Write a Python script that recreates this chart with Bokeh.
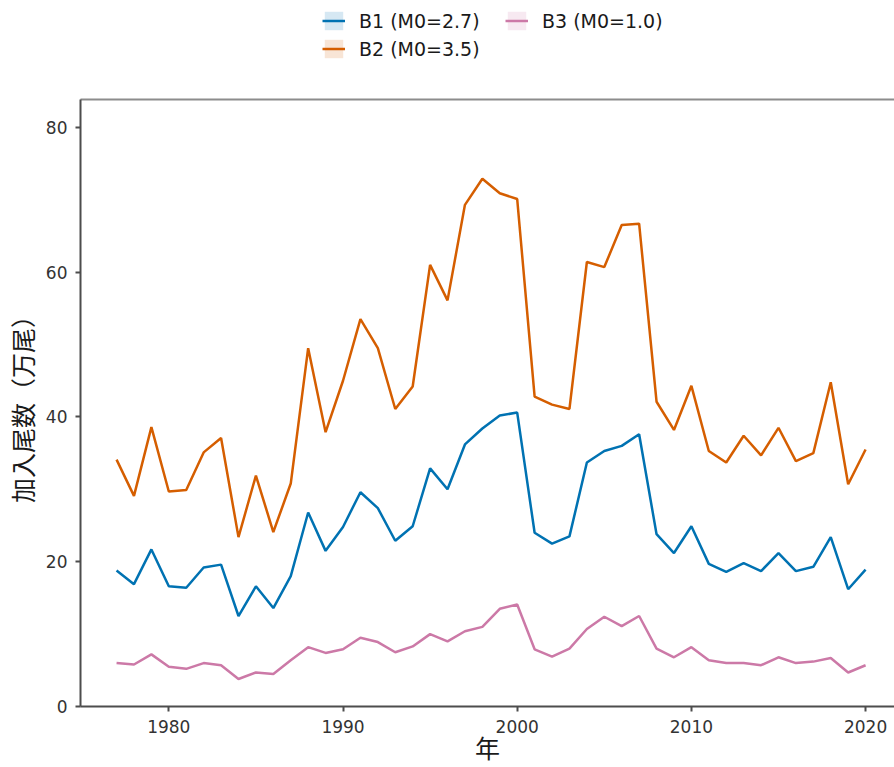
from bokeh.plotting import figure
from bokeh.layouts import column
from bokeh.models import Range1d, LinearAxis, Legend, LegendItem, FixedTicker, ColumnDataSource
from bokeh.embed import file_html
from bokeh.resources import INLINE

years = list(range(1977, 2021))

b1 = [18.8, 16.9, 21.7, 16.6, 16.4, 19.2, 19.6, 12.5, 16.6, 13.6,
      18.0, 26.8, 21.5, 24.8, 29.6, 27.4, 22.9, 24.9, 32.9, 30.0,
      36.2, 38.4, 40.2, 40.6, 24.0, 22.5, 23.5, 33.7, 35.3, 36.0,
      37.6, 23.8, 21.2, 24.9, 19.7, 18.6, 19.8, 18.7, 21.2, 18.7,
      19.3, 23.4, 16.2, 18.9]

b2 = [34.1, 29.1, 38.6, 29.7, 29.9, 35.1, 37.1, 23.4, 31.9, 24.1,
      30.8, 49.5, 37.9, 45.0, 53.5, 49.5, 41.1, 44.2, 61.0, 56.1,
      69.3, 72.9, 70.9, 70.1, 42.8, 41.7, 41.1, 61.4, 60.7, 66.5,
      66.7, 42.1, 38.2, 44.3, 35.3, 33.7, 37.4, 34.7, 38.5, 33.9,
      35.0, 44.8, 30.7, 35.5]

b3 = [6.0, 5.8, 7.2, 5.5, 5.2, 6.0, 5.7, 3.8, 4.7, 4.5,
      6.4, 8.2, 7.4, 7.9, 9.5, 8.9, 7.5, 8.3, 10.0, 9.0,
      10.4, 11.0, 13.5, 14.1, 7.9, 6.9, 8.0, 10.7, 12.4, 11.1,
      12.5, 8.0, 6.8, 8.2, 6.4, 6.0, 6.0, 5.7, 6.8, 6.0,
      6.2, 6.7, 4.7, 5.7]

series_names = ["B1 (M0=2.7)", "B2 (M0=3.5)", "B3 (M0=1.0)"]
series_values = [b1, b2, b3]
series_colors = ["#0072B2", "#D55E00", "#CC79A7"]

x_ticks = [1980, 1990, 2000, 2010, 2020]
y_ticks = [0, 20, 40, 60, 80]
x_title = "年"
y_title = "加入尾数（万尾）"

FONT = "Noto Sans CJK JP"
LATIN = "DejaVu Sans"
W, H, LEG_H = 894, 767, 66

# ---- legend strip (its ranges keep the proxy glyphs out of view) ----
lf = figure(width=W, height=LEG_H, output_backend="svg", toolbar_location=None,
            x_range=Range1d(0, 1), y_range=Range1d(-200, -100),
            x_axis_type=None, y_axis_type=None,
            min_border_left=0, min_border_right=0, min_border_top=0, min_border_bottom=0)
lf.outline_line_color = None
lf.xgrid.grid_line_color = None
lf.ygrid.grid_line_color = None

# ---- main plot ----
p = figure(width=W, height=H - LEG_H, output_backend="svg", toolbar_location=None,
           x_range=Range1d(1974.93, 2021.66), y_range=Range1d(0, 83.85),
           min_border_left=80, min_border_right=0, min_border_top=99 - LEG_H,
           min_border_bottom=61, x_axis_label=x_title, y_axis_label=y_title)
p.outline_line_color = None
p.xgrid.grid_line_color = None
p.ygrid.grid_line_color = None
p.background_fill_color = "white"

for ax, ticks in ((p.xaxis[0], x_ticks), (p.yaxis[0], y_ticks)):
    ax.ticker = FixedTicker(ticks=ticks)
    ax.axis_line_color = "#4d4d4d"
    ax.axis_line_width = 2
    ax.major_tick_line_color = "#4d4d4d"
    ax.major_tick_line_width = 2
    ax.major_tick_out = 5
    ax.major_tick_in = 0
    ax.minor_tick_line_color = None
    ax.major_label_text_font = LATIN
    ax.major_label_text_font_size = "17px"
    ax.major_label_text_color = "#333333"
    ax.axis_label_text_font = FONT
    ax.axis_label_text_font_size = "25px"
    ax.axis_label_text_font_style = "normal"
    ax.axis_label_text_color = "#1a1a1a"

p.xaxis[0].major_label_standoff = 8
p.xaxis[0].axis_label_standoff = -7
p.yaxis[0].major_label_standoff = 8
p.yaxis[0].axis_label_standoff = 3

top = LinearAxis(ticker=FixedTicker(ticks=[]), axis_line_color="#8c8c8c", axis_line_width=2,
                 major_tick_line_color=None, minor_tick_line_color=None,
                 major_label_text_font_size="0px")
p.add_layout(top, "above")

items = []
for name, vals, col in zip(series_names, series_values, series_colors):
    src = ColumnDataSource(dict(x=years, y=vals))
    p.line("x", "y", source=src, line_color=col, line_width=2.5)
    key = lf.quad(left="x", right="x", top="y", bottom="y", source=src,
                  fill_color=col, fill_alpha=0.16, line_color=None)
    kl = lf.line("x", "y", source=src, line_color=col, line_width=2.5)
    items.append(LegendItem(label=name, renderers=[key, kl]))

legend = Legend(items=items, orientation="vertical", nrows=2, location=(242, 6),
                glyph_width=23, glyph_height=23, label_standoff=14, label_width=141,
                spacing=5, padding=0, margin=0, border_line_color=None,
                background_fill_alpha=0, label_text_font=LATIN,
                label_text_font_size="19px", label_text_color="#1a1a1a")
lf.add_layout(legend, "center")

layout = column(lf, p, spacing=0)
open("out.html", "w").write(file_html(layout, INLINE))
